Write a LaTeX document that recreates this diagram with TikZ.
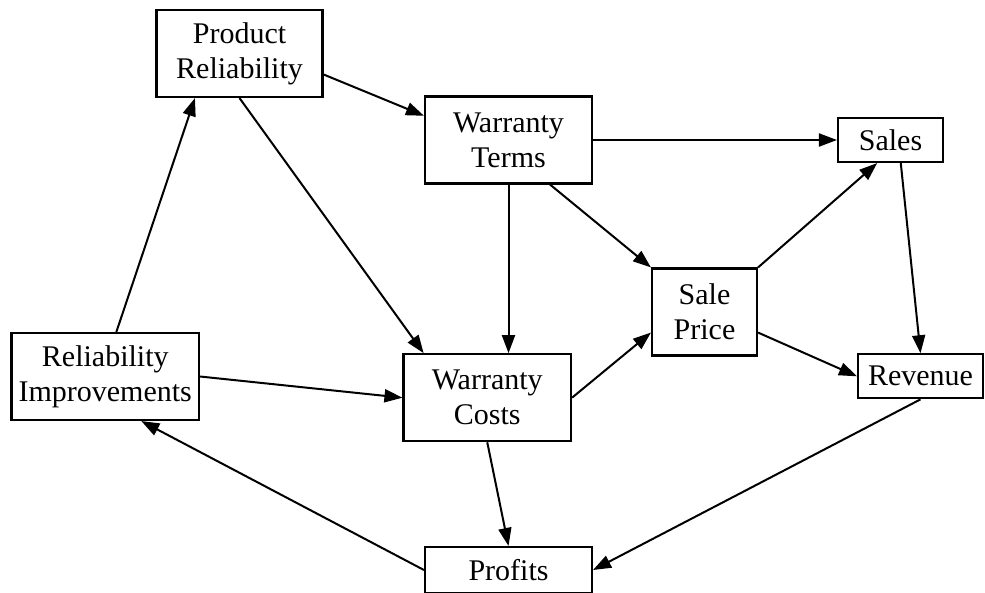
\documentclass[tikz,border=0pt]{standalone}
\usepackage{fontspec}
\setmainfont{Liberation Serif}
\usetikzlibrary{arrows.meta}
\begin{document}
\begin{tikzpicture}[x=1pt,y=-1pt,
  box/.style={draw, line width=2.1pt, align=center, inner sep=0pt,
    font=\fontsize{30}{35}\selectfont},
  link/.style={line width=2pt, -{Triangle[length=18pt,width=13pt]}}]
\useasboundingbox (0,0) rectangle (985,592);

% boxes
\node[box, minimum width=166pt, minimum height=87pt] (PR) at (239.5,53.5) {Product\\Reliability};
\node[box, minimum width=167pt, minimum height=87pt] (WT) at (508.5,140) {Warranty\\Terms};
\node[box, minimum width=105pt, minimum height=44pt] (SA) at (890.5,140) {Sales};
\node[box, minimum width=105pt, minimum height=87pt] (SP) at (704.5,312) {Sale\\Price};
\node[box, minimum width=187.5pt, minimum height=87pt] (RI) at (105.25,376.5) {Reliability\\Improvements};
\node[box, minimum width=167.5pt, minimum height=87pt] (WC) at (487.25,397.7) {Warranty\\Costs};
\node[box, minimum width=125pt, minimum height=44pt] (RV) at (920.5,376.3) {Revenue};
\node[box, minimum width=167pt, minimum height=46pt] (PF) at (508.5,570) {Profits};

% influences
\draw[link] (PR.-14.5) -- (WT.164.6);
\draw[link] (PR.south) -- (WC.145.4);
\draw[link] (RI.76.1) -- (PR.225.5);
\draw[link] (RI.east) -- (WC.west);
\draw[link] (WT.south) -- (WT.south |- WC.north);
\draw[link] (WT.east) -- (SA.west);
\draw[link] (WT.-47) -- (SP.north west);
\draw[link] (SP.north east) -- (SA.240.4);
\draw[link] (SA.-66.6) -- (RV.north);
\draw[link] (SP.-21.8) -- (RV.west);
\draw[link] (WC.east) -- (SP.201.8);
\draw[link] (WC.south) -- (PF.north);
\draw[link] (RV.south) -- (PF.east);
\draw[link] (PF.west) -- (RI.-51.4);
\end{tikzpicture}
\end{document}
